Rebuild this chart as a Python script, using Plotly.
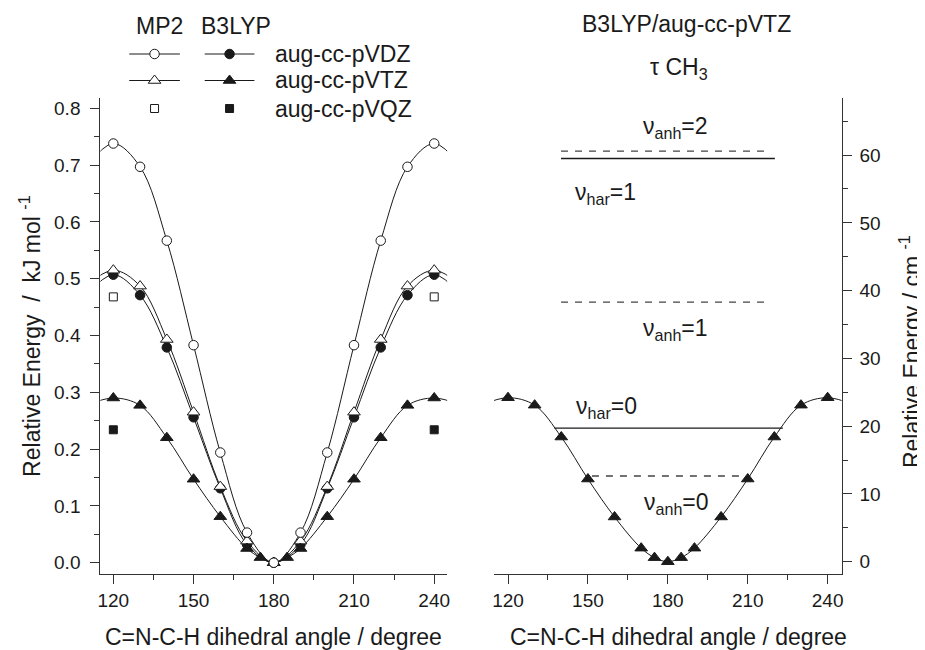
import plotly.graph_objects as go

# the page body adds an 8px margin; the figure fills the rest of the 925x650 window
PAGE_OFF = 8
W, H = 925 - PAGE_OFF, 650 - PAGE_OFF

# ---------------- data ----------------
angles = [120, 130, 140, 150, 160, 170, 180, 190, 200, 210, 220, 230, 240]
angles_tz = [120, 130, 140, 150, 160, 170, 175, 180, 185, 190, 200, 210, 220, 230, 240]

mp2_dz = [0.738, 0.697, 0.567, 0.383, 0.194, 0.053, 0.0, 0.053, 0.194, 0.383, 0.567, 0.697, 0.738]
mp2_tz = [0.515, 0.487, 0.393, 0.265, 0.134, 0.038, 0.0, 0.038, 0.134, 0.265, 0.393, 0.487, 0.515]
b3lyp_dz = [0.507, 0.471, 0.379, 0.256, 0.131, 0.032, 0.0, 0.032, 0.131, 0.256, 0.379, 0.471, 0.507]
b3lyp_tz = [0.290, 0.277, 0.220, 0.147, 0.081, 0.025, 0.009, 0.0,
            0.009, 0.025, 0.081, 0.147, 0.220, 0.277, 0.290]

qz_angles = [120, 240]
mp2_qz = [0.468, 0.468]
b3lyp_qz = [0.234, 0.234]

# right panel: B3LYP/aug-cc-pVTZ in cm-1
b3lyp_tz_cm = [24.2, 23.1, 18.4, 12.2, 6.6, 2.0, 0.6, 0.0, 0.6, 2.0, 6.6, 12.2, 18.4, 23.1, 24.2]

level_labels = ["anh=2", "har=1", "anh=1", "har=0", "anh=0"]
level_values = [60.6, 59.5, 38.3, 19.7, 12.65]
level_start = [139.9, 139.9, 139.9, 137.4, 151.5]
level_end = [217.6, 220.2, 217.6, 223.2, 209.0]
level_dashed = [True, False, True, False, True]

x_ticks = [120, 150, 180, 210, 240]
x_minor = [135, 165, 195, 225]
yl_ticks = [0, 0.1, 0.2, 0.3, 0.4, 0.5, 0.6, 0.7, 0.8]
yl_labels = ["0.0", "0.1", "0.2", "0.3", "0.4", "0.5", "0.6", "0.7", "0.8"]
yl_minor = [0.05, 0.15, 0.25, 0.35, 0.45, 0.55, 0.65, 0.75]
yr_ticks = [0, 10, 20, 30, 40, 50, 60]
yr_minor = [5, 15, 25, 35, 45, 55, 65]

FONT = "Liberation Sans"
INK = "#1a1a1a"
AX = "#333333"
TS = 23  # text size
NB = "\u00a0"


def periodic_extend(x, y):
    """Mirror one step beyond each end (potential is symmetric about 120 and 240)."""
    step_l = x[1] - x[0]
    step_r = x[-1] - x[-2]
    return ([x[0] - step_l] + list(x) + [x[-1] + step_r],
            [y[1]] + list(y) + [y[-2]])


def px_x(p):
    return (p - PAGE_OFF) / W


def px_y(p):
    return 1 - (p - PAGE_OFF) / H


fig = go.Figure()

# ---------------- left panel curves ----------------
for xs, ys in [(angles, mp2_dz), (angles, mp2_tz), (angles, b3lyp_dz), (angles_tz, b3lyp_tz)]:
    ex, ey = periodic_extend(xs, ys)
    fig.add_trace(go.Scatter(x=ex, y=ey, mode="lines", line=dict(color=INK, width=1, shape="spline"),
                             xaxis="x", yaxis="y", showlegend=False, hoverinfo="skip"))

open_mk = dict(color="white", line=dict(color=INK, width=1))
fill_mk = dict(color=INK, line=dict(color=INK, width=1))

fig.add_trace(go.Scatter(x=angles, y=b3lyp_dz, mode="markers", xaxis="x", yaxis="y", showlegend=False,
                         marker=dict(symbol="circle", size=9.5, **fill_mk)))
fig.add_trace(go.Scatter(x=angles, y=mp2_tz, mode="markers", xaxis="x", yaxis="y", showlegend=False,
                         marker=dict(symbol="triangle-up", size=11, **open_mk)))
fig.add_trace(go.Scatter(x=angles_tz, y=b3lyp_tz, mode="markers", xaxis="x", yaxis="y", showlegend=False,
                         marker=dict(symbol="triangle-up", size=11, **fill_mk)))
fig.add_trace(go.Scatter(x=angles, y=mp2_dz, mode="markers", xaxis="x", yaxis="y", showlegend=False,
                         marker=dict(symbol="circle", size=9.5, **open_mk)))
fig.add_trace(go.Scatter(x=qz_angles, y=mp2_qz, mode="markers", xaxis="x", yaxis="y", showlegend=False,
                         marker=dict(symbol="square", size=8, **open_mk)))
fig.add_trace(go.Scatter(x=qz_angles, y=b3lyp_qz, mode="markers", xaxis="x", yaxis="y", showlegend=False,
                         marker=dict(symbol="square", size=8, **fill_mk)))

# ---------------- right panel ----------------
ex, ey = periodic_extend(angles_tz, b3lyp_tz_cm)
fig.add_trace(go.Scatter(x=ex, y=ey, mode="lines", line=dict(color=INK, width=1, shape="spline"),
                         xaxis="x2", yaxis="y2", showlegend=False, hoverinfo="skip"))
for v, s, e, d in zip(level_values, level_start, level_end, level_dashed):
    fig.add_trace(go.Scatter(x=[s, e], y=[v, v], mode="lines", xaxis="x2", yaxis="y2", showlegend=False,
                             line=dict(color=INK if not d else "#444", width=1.3,
                                       dash="7px,7px" if d else "solid"),
                             hoverinfo="skip"))
fig.add_trace(go.Scatter(x=angles_tz, y=b3lyp_tz_cm, mode="markers", xaxis="x2", yaxis="y2", showlegend=False,
                         marker=dict(symbol="triangle-up", size=11, **fill_mk)))

# ---------------- legend (overlay pixel axis, page pixels) ----------------
leg_rows_y = [54.0, 80.5, 108.5]
leg_mp2_line = (127, 178)
leg_b3_line = (203, 253)
leg_syms = [("circle", 9.5), ("triangle-up", 11), ("square", 8)]
for i, (yy, (sym, sz)) in enumerate(zip(leg_rows_y, leg_syms)):
    if i < 2:
        for (a, b) in (leg_mp2_line, leg_b3_line):
            fig.add_trace(go.Scatter(x=[a, b], y=[yy, yy], mode="lines", xaxis="x3", yaxis="y3",
                                     showlegend=False, line=dict(color=INK, width=1), hoverinfo="skip"))
    fig.add_trace(go.Scatter(x=[(leg_mp2_line[0] + leg_mp2_line[1]) / 2], y=[yy], mode="markers",
                             xaxis="x3", yaxis="y3", showlegend=False,
                             marker=dict(symbol=sym, size=sz, **open_mk), hoverinfo="skip"))
    fig.add_trace(go.Scatter(x=[(leg_b3_line[0] + leg_b3_line[1]) / 2], y=[yy], mode="markers",
                             xaxis="x3", yaxis="y3", showlegend=False,
                             marker=dict(symbol=sym, size=sz, **fill_mk), hoverinfo="skip"))

basis_labels = ["aug-cc-pVDZ", "aug-cc-pVTZ", "aug-cc-pVQZ"]

annotations = []


def ann_px(text, x, y, size=TS, xanchor="center", yanchor="middle", angle=0):
    annotations.append(dict(text=text, x=px_x(x), y=px_y(y), xref="paper", yref="paper",
                            showarrow=False, xanchor=xanchor, yanchor=yanchor, textangle=angle,
                            font=dict(family=FONT, size=size, color=INK)))


ann_px("MP2", 157, 26)
ann_px("B3LYP", 234, 26)
for lab, yy in zip(basis_labels, leg_rows_y):
    ann_px(lab, 272, yy, xanchor="left")

ann_px("B3LYP/aug-cc-pVTZ", 688, 24)
ann_px("τ CH<sub>3</sub>", 680, 68)

# axis titles
ann_px("C=N-C-H dihedral angle / degree", 272, 637)
ann_px("C=N-C-H dihedral angle / degree", 680, 637)
ann_px("Relative Energy" + NB * 2 + "/" + NB * 2 + "kJ mol" + NB + "<sup>-1</sup>", 27, 336, angle=-90)
ann_px("Relative Energy" + NB + "/" + NB + "cm" + NB + "<sup>-1</sup>", 913, 352, angle=-90)

# level labels (data coords of right panel)
level_label_pos = [(182.8, 64.0), (156.7, 54.4), (183.0, 34.2), (157.0, 22.7), (183.2, 8.6)]
for lab, (lx, ly) in zip(level_labels, level_label_pos):
    sub, val = lab.split("=")
    annotations.append(dict(text="ν<sub>" + sub + "</sub>=" + val, x=lx, y=ly, xref="x2", yref="y2",
                            showarrow=False, xanchor="center", yanchor="middle",
                            font=dict(family=FONT, size=TS, color=INK)))


def axis_style(standoff, **kw):
    d = dict(showline=True, linecolor=AX, linewidth=1.3, ticks="outside", ticklen=9, tickwidth=1.3,
             tickcolor=AX, showgrid=False, zeroline=False, ticklabelstandoff=standoff,
             tickfont=dict(family=FONT, size=19, color=INK))
    d.update(kw)
    return d


def minor_style(vals):
    return dict(ticks="outside", ticklen=5, tickwidth=1.3, tickcolor=AX, tickmode="array", tickvals=vals)


x_range_left = [115.17, 244.83]
x_range_right = [114.78, 245.22]
y_dom = [px_y(573.5), px_y(97.5)]

fig.update_layout(
    width=W, height=H, margin=dict(l=0, r=0, t=0, b=0, pad=0),
    paper_bgcolor="white", plot_bgcolor="rgba(0,0,0,0)", showlegend=False,
    xaxis=axis_style(1, domain=[px_x(98), px_x(447)], range=x_range_left, anchor="y",
                     tickmode="array", tickvals=x_ticks, minor=minor_style(x_minor)),
    yaxis=axis_style(6, domain=y_dom, range=[-0.019, 0.819], anchor="x", tickmode="array",
                     tickvals=yl_ticks, ticktext=yl_labels, minor=minor_style(yl_minor)),
    xaxis2=axis_style(1, domain=[px_x(494.3), px_x(844)], range=x_range_right, anchor="y2",
                      tickmode="array", tickvals=x_ticks, minor=minor_style(x_minor)),
    yaxis2=axis_style(4, domain=y_dom, range=[-1.74, 68.5], anchor="x2", side="right", tickmode="array",
                      tickvals=yr_ticks, minor=minor_style(yr_minor)),
    xaxis3=dict(domain=[0, 1], range=[PAGE_OFF, PAGE_OFF + W], visible=False, fixedrange=True, anchor="y3"),
    yaxis3=dict(domain=[0, 1], range=[PAGE_OFF + H, PAGE_OFF], visible=False, fixedrange=True, anchor="x3"),
    annotations=annotations,
)

fig.write_html("out.html")
